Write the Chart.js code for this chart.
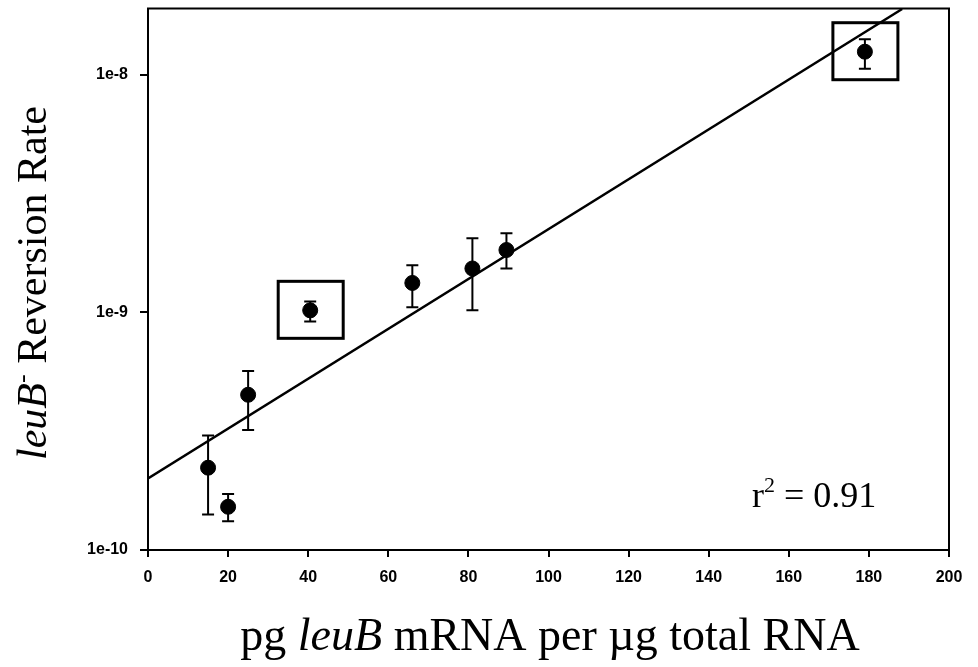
<!DOCTYPE html>
<html lang="en">
<head>
    <meta charset="UTF-8">
    <script src="https://cdn.jsdelivr.net/npm/chart.js@4.4.0/dist/chart.umd.min.js"></script>
    <title>leuB reversion rate</title>
    <style>
        body { margin: 0; background: #fff; }
        #wrap { width: 978px; height: 667px; }
    </style>
</head>
<body>
    <div id="wrap">
        <canvas id="mychart"></canvas>
    </div>
    <script>
        // data
        var mrna = [15, 20, 25, 40.5, 66, 81, 89.5, 179];
        var rate = [2.22e-10, 1.52e-10, 4.5e-10, 1.02e-9, 1.33e-9, 1.53e-9, 1.83e-9, 1.25e-8];
        var rateHigh = [3.03e-10, 1.72e-10, 5.67e-10, 1.11e-9, 1.58e-9, 2.05e-9, 2.15e-9, 1.41e-8];
        var rateLow = [1.41e-10, 1.32e-10, 3.2e-10, 0.915e-9, 1.05e-9, 1.02e-9, 1.53e-9, 1.06e-8];
        var boxed = [3, 7];   // points with a frame drawn round them

        var fitX = [0, 188.3];
        var fitY = [2.0e-10, 1.89e-8];

        var xTicks = [0, 20, 40, 60, 80, 100, 120, 140, 160, 180, 200];
        var yTicks = [1e-10, 1e-9, 1e-8];
        var rsqText = '0.91';

        var serif = "'Liberation Serif', 'Times New Roman', serif";
        var sans = "'Liberation Sans', Arial, sans-serif";

        var points = [];
        for (var i = 0; i < mrna.length; i++) {
            points.push({x: mrna[i], y: rate[i]});
        }
        var fit = [];
        for (var i = 0; i < fitX.length; i++) {
            fit.push({x: fitX[i], y: fitY[i]});
        }

        // write a row of text pieces, each with its own font and baseline shift
        function drawPieces(c, pieces, x, y, align) {
            var total = 0;
            pieces.forEach(function (p) {
                c.font = p.font;
                total += c.measureText(p.text).width;
            });
            var cx = align === 'center' ? x - total / 2 : x;
            pieces.forEach(function (p) {
                c.font = p.font;
                c.fillText(p.text, cx, y + (p.dy || 0));
                cx += c.measureText(p.text).width;
            });
        }

        var extras = {
            id: 'extras',
            afterDatasetsDraw: function (chart) {
                var c = chart.ctx;
                var xs = chart.scales.x, ys = chart.scales.y;
                var a = chart.chartArea;
                c.save();
                c.strokeStyle = '#000';
                c.fillStyle = '#000';

                // error bars
                c.lineWidth = 2;
                for (var i = 0; i < mrna.length; i++) {
                    var px = xs.getPixelForValue(mrna[i]);
                    var top = ys.getPixelForValue(rateHigh[i]);
                    var bot = ys.getPixelForValue(rateLow[i]);
                    c.beginPath();
                    c.moveTo(px, top); c.lineTo(px, bot);
                    c.moveTo(px - 6, top); c.lineTo(px + 6, top);
                    c.moveTo(px - 6, bot); c.lineTo(px + 6, bot);
                    c.stroke();
                }

                // frames round the highlighted points
                c.lineWidth = 3;
                boxed.forEach(function (i) {
                    var px = xs.getPixelForValue(mrna[i]);
                    var py = ys.getPixelForValue(rate[i]);
                    c.strokeRect(px - 32, py - 29, 65, 57);
                });

                // plot frame
                c.lineWidth = 2;
                c.strokeRect(a.left, a.top, a.right - a.left, a.bottom - a.top);

                // r squared
                c.textBaseline = 'alphabetic';
                drawPieces(c, [
                    {text: 'r', font: '36px ' + serif},
                    {text: '2', font: '22px ' + serif, dy: -15},
                    {text: ' = ' + rsqText, font: '36px ' + serif}
                ], 752, 507, 'left');

                // x title
                drawPieces(c, [
                    {text: 'pg ', font: '46px ' + serif},
                    {text: 'leuB', font: 'italic 46px ' + serif},
                    {text: ' mRNA per \u00b5g total RNA', font: '46px ' + serif}
                ], 550, 650, 'center');

                // y title, rotated
                c.translate(46, 283);
                c.rotate(-Math.PI / 2);
                drawPieces(c, [
                    {text: 'leuB', font: 'italic 42px ' + serif},
                    {text: '-', font: '26px ' + serif, dy: -16},
                    {text: ' Reversion Rate', font: '42px ' + serif}
                ], 0, 0, 'center');
                c.restore();
            }
        };

        var ctx = document.getElementById('mychart');
        var myChart = new Chart(ctx, {
            type: 'scatter',
            data: {
                datasets: [{
                    label: 'fit',
                    type: 'line',
                    data: fit,
                    borderColor: '#000',
                    borderWidth: 2.5,
                    pointRadius: 0,
                    fill: false
                }, {
                    label: 'leuB',
                    data: points,
                    backgroundColor: '#000',
                    borderColor: '#000',
                    pointRadius: 7.5,
                    pointHoverRadius: 7.5
                }]
            },
            options: {
                responsive: true,
                maintainAspectRatio: false,
                animation: false,
                events: [],
                layout: { padding: { top: 8, right: 29, left: 0, bottom: 0 } },
                plugins: {
                    legend: { display: false },
                    tooltip: { enabled: false }
                },
                scales: {
                    x: {
                        type: 'linear',
                        min: 0,
                        max: 200,
                        afterBuildTicks: function (s) {
                            s.ticks = xTicks.map(function (v) { return {value: v}; });
                        },
                        afterFit: function (s) { s.height = 117; },
                        ticks: {
                            color: '#000',
                            padding: 11,
                            maxRotation: 0,
                            font: { family: sans, size: 16, weight: 'bold' }
                        },
                        grid: { drawOnChartArea: false, color: '#000', lineWidth: 2, tickLength: 7 },
                        border: { color: '#000', width: 2 }
                    },
                    y: {
                        type: 'logarithmic',
                        min: 1e-10,
                        max: 1.9e-8,
                        afterBuildTicks: function (s) {
                            s.ticks = yTicks.map(function (v) { return {value: v}; });
                        },
                        afterFit: function (s) {
                            s.width = 148;
                            s.paddingTop = 0;
                            s.paddingBottom = 0;
                        },
                        ticks: {
                            color: '#000',
                            padding: 12,
                            font: { family: sans, size: 16, weight: 'bold' },
                            callback: function (v) { return Number(v).toExponential(0); }
                        },
                        grid: { drawOnChartArea: false, color: '#000', lineWidth: 2, tickLength: 8 },
                        border: { color: '#000', width: 2 }
                    }
                }
            },
            plugins: [extras]
        });
    </script>
</body>
</html>
